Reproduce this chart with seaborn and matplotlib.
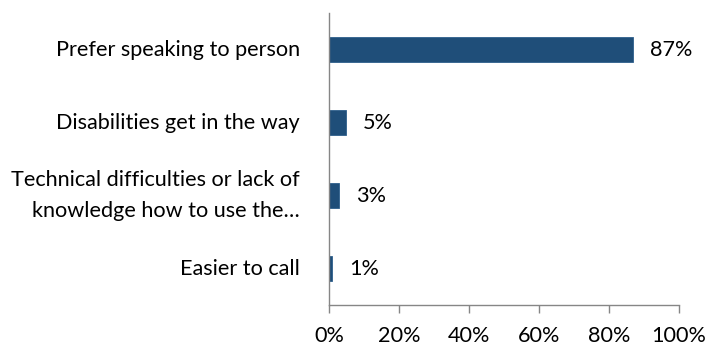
import matplotlib
matplotlib.use("Agg")
import matplotlib.pyplot as plt
import seaborn as sns
import pandas as pd
from matplotlib.ticker import PercentFormatter

categories = [
    "Prefer speaking to person",
    "Disabilities get in the way",
    "Technical difficulties or lack of\nknowledge how to use the\u2026",
    "Easier to call",
]
values = [87, 5, 3, 1]
x_ticks = [0, 20, 40, 60, 80, 100]

df = pd.DataFrame({"reason": categories, "share": values})

sns.set_theme(style="white")
plt.rcParams["font.family"] = ["Lato", "DejaVu Sans"]

fig = plt.figure(figsize=(7.23, 3.46), dpi=100)
ax = fig.add_axes([0.455, 0.1185, 0.484, 0.8439])

bar_color = "#1F4E79"
sns.barplot(data=df, x="share", y="reason", orient="h", color=bar_color,
            width=0.34, saturation=1, ax=ax, edgecolor="#2E5F8C", linewidth=0.6)

ax.set_xlim(0, 100)
ax.set_ylim(3.5, -0.5)
ax.set_xticks(x_ticks)
ax.xaxis.set_major_formatter(PercentFormatter(decimals=0))
ax.set_xlabel("")
ax.set_ylabel("")

for s in ["top", "right"]:
    ax.spines[s].set_visible(False)
for s in ["left", "bottom"]:
    ax.spines[s].set_color("#868686")
    ax.spines[s].set_linewidth(1.0)

fs = 15.6
ax.tick_params(axis="x", bottom=True, direction="out", length=6, width=1,
               color="#868686", labelsize=fs, labelcolor="black", pad=9)
ax.tick_params(axis="y", left=False, labelsize=fs, labelcolor="black", pad=15)
for lbl in ax.get_yticklabels():
    lbl.set_linespacing(1.7)
    lbl.set_horizontalalignment("right")
    lbl.set_verticalalignment("center")

for i, v in enumerate(values):
    ax.annotate(f"{v}%", xy=(v, i), xytext=(12, 0), textcoords="offset points",
                va="center", ha="left", fontsize=fs, color="black")

fig.savefig("out.png", dpi=100)
